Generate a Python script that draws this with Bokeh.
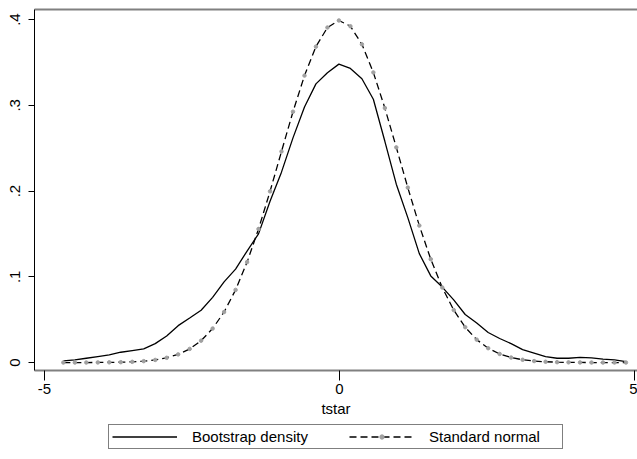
from bokeh.plotting import figure
from bokeh.models import Range1d, FixedTicker, LinearAxis, Legend, LegendItem
from bokeh.layouts import column
from bokeh.embed import file_html
from bokeh.resources import INLINE

# evaluation grid (50 points)
tstar = [-4.680, -4.485, -4.291, -4.096, -3.902, -3.707, -3.512, -3.318, -3.123, -2.929,
         -2.734, -2.539, -2.345, -2.150, -1.956, -1.761, -1.566, -1.372, -1.177, -0.983,
         -0.788, -0.593, -0.399, -0.204, -0.010, 0.185, 0.380, 0.574, 0.769, 0.963,
         1.158, 1.353, 1.547, 1.742, 1.936, 2.131, 2.326, 2.520, 2.715, 2.909,
         3.104, 3.299, 3.493, 3.688, 3.882, 4.077, 4.272, 4.466, 4.661, 4.855]

bootstrap_density = [0.002, 0.003, 0.005, 0.007, 0.009, 0.012, 0.014, 0.016, 0.022, 0.031,
                     0.043, 0.052, 0.061, 0.076, 0.094, 0.109, 0.130, 0.150, 0.188, 0.222,
                     0.262, 0.298, 0.325, 0.338, 0.348, 0.343, 0.331, 0.307, 0.258, 0.208,
                     0.169, 0.127, 0.101, 0.088, 0.073, 0.056, 0.046, 0.035, 0.028, 0.022,
                     0.015, 0.011, 0.007, 0.005, 0.005, 0.006, 0.0055, 0.004, 0.003, 0.001]

standard_normal = [0.0000, 0.0000, 0.0000, 0.0001, 0.0002, 0.0004, 0.0008, 0.0016, 0.0030, 0.0055,
                   0.0095, 0.0159, 0.0255, 0.0396, 0.0589, 0.0847, 0.1171, 0.1557, 0.1996, 0.2461,
                   0.2925, 0.3346, 0.3684, 0.3907, 0.3989, 0.3922, 0.3711, 0.3383, 0.2968, 0.2509,
                   0.2040, 0.1597, 0.1205, 0.0875, 0.0612, 0.0412, 0.0267, 0.0167, 0.0100, 0.0058,
                   0.0032, 0.0017, 0.0009, 0.0004, 0.0002, 0.0001, 0.0000, 0.0000, 0.0000, 0.0000]

x_ticks = [-5, 0, 5]
x_tick_labels = {-5: "-5", 0: "0", 5: "5"}
y_ticks = [0, 0.1, 0.2, 0.3, 0.4]
y_tick_labels = {0: "0", 0.1: ".1", 0.2: ".2", 0.3: ".3", 0.4: ".4"}
series_names = ["Bootstrap density", "Standard normal"]
x_title = "tstar"

FONT = "Liberation Sans"
GRAY = "#808080"


def draw_series(fig):
    a = fig.line(tstar, bootstrap_density, line_color="black", line_width=1.3)
    b = fig.line(tstar, standard_normal, line_color="black", line_width=1.3, line_dash="7 4")
    c = fig.scatter(tstar, standard_normal, size=3.5, fill_color="#a0a0a0", line_color="#a0a0a0")
    return a, b, c


p = figure(frame_width=603, frame_height=361, output_backend="svg", toolbar_location=None,
           x_range=Range1d(-5.169, 5.051), y_range=Range1d(-0.0093, 0.4117),
           min_border_left=34, min_border_right=0, min_border_top=9, min_border_bottom=0)
p.outline_line_color = None
p.xgrid.visible = False
p.ygrid.visible = False
p.background_fill_color = "white"
p.border_fill_color = "white"

draw_series(p)

# x axis
xa = p.xaxis[0]
xa.ticker = FixedTicker(ticks=x_ticks)
xa.major_label_overrides = x_tick_labels
xa.axis_line_color = GRAY
xa.axis_line_width = 2
xa.major_tick_line_color = "black"
xa.major_tick_out = 10
xa.major_tick_in = 0
xa.minor_tick_line_color = None
xa.major_label_standoff = 3
xa.major_label_text_font = FONT
xa.major_label_text_font_size = "15px"
xa.major_label_text_color = "black"
xa.axis_label = x_title
xa.axis_label_standoff = 3
xa.axis_label_text_font = FONT
xa.axis_label_text_font_size = "15px"
xa.axis_label_text_font_style = "normal"
xa.axis_label_text_color = "black"

# y axis
ya = p.yaxis[0]
ya.ticker = FixedTicker(ticks=y_ticks)
ya.major_label_overrides = y_tick_labels
ya.axis_line_color = "black"
ya.axis_line_width = 1
ya.major_tick_line_color = "black"
ya.major_tick_out = 6
ya.major_tick_in = 0
ya.minor_tick_line_color = None
ya.major_label_orientation = "vertical"
ya.major_label_standoff = 8
ya.major_label_text_font = FONT
ya.major_label_text_font_size = "15px"
ya.major_label_text_color = "black"

# top border line
top = LinearAxis(ticker=FixedTicker(ticks=[]), axis_line_color=GRAY, axis_line_width=2,
                 major_tick_line_color=None, minor_tick_line_color=None,
                 major_label_text_font_size="0px")
p.add_layout(top, "above")

# legend strip: same series drawn out of view, only the legend shows
lg = figure(width=637, height=40, output_backend="svg", toolbar_location=None,
            x_range=Range1d(-5.169, 5.051), y_range=Range1d(10, 11),
            x_axis_type=None, y_axis_type=None,
            min_border_left=0, min_border_right=0, min_border_top=0, min_border_bottom=0)
lg.outline_line_color = None
lg.xgrid.visible = False
lg.ygrid.visible = False
l1, l2, l3 = draw_series(lg)

legend = Legend(items=[LegendItem(label=series_names[0], renderers=[l1]),
                       LegendItem(label=series_names[1], renderers=[l2, l3])],
                location=(74, 10), orientation="horizontal",
                padding=3, spacing=27, glyph_width=65, glyph_height=11,
                label_standoff=15, label_width=130, label_height=11,
                label_text_font=FONT, label_text_font_size="15px",
                label_text_color="black",
                border_line_color="black", border_line_width=1,
                background_fill_color="white", background_fill_alpha=1.0,
                margin=0)
lg.add_layout(legend, "center")

layout = column(p, lg, spacing=0)
open("out.html", "w").write(file_html(layout, INLINE))
